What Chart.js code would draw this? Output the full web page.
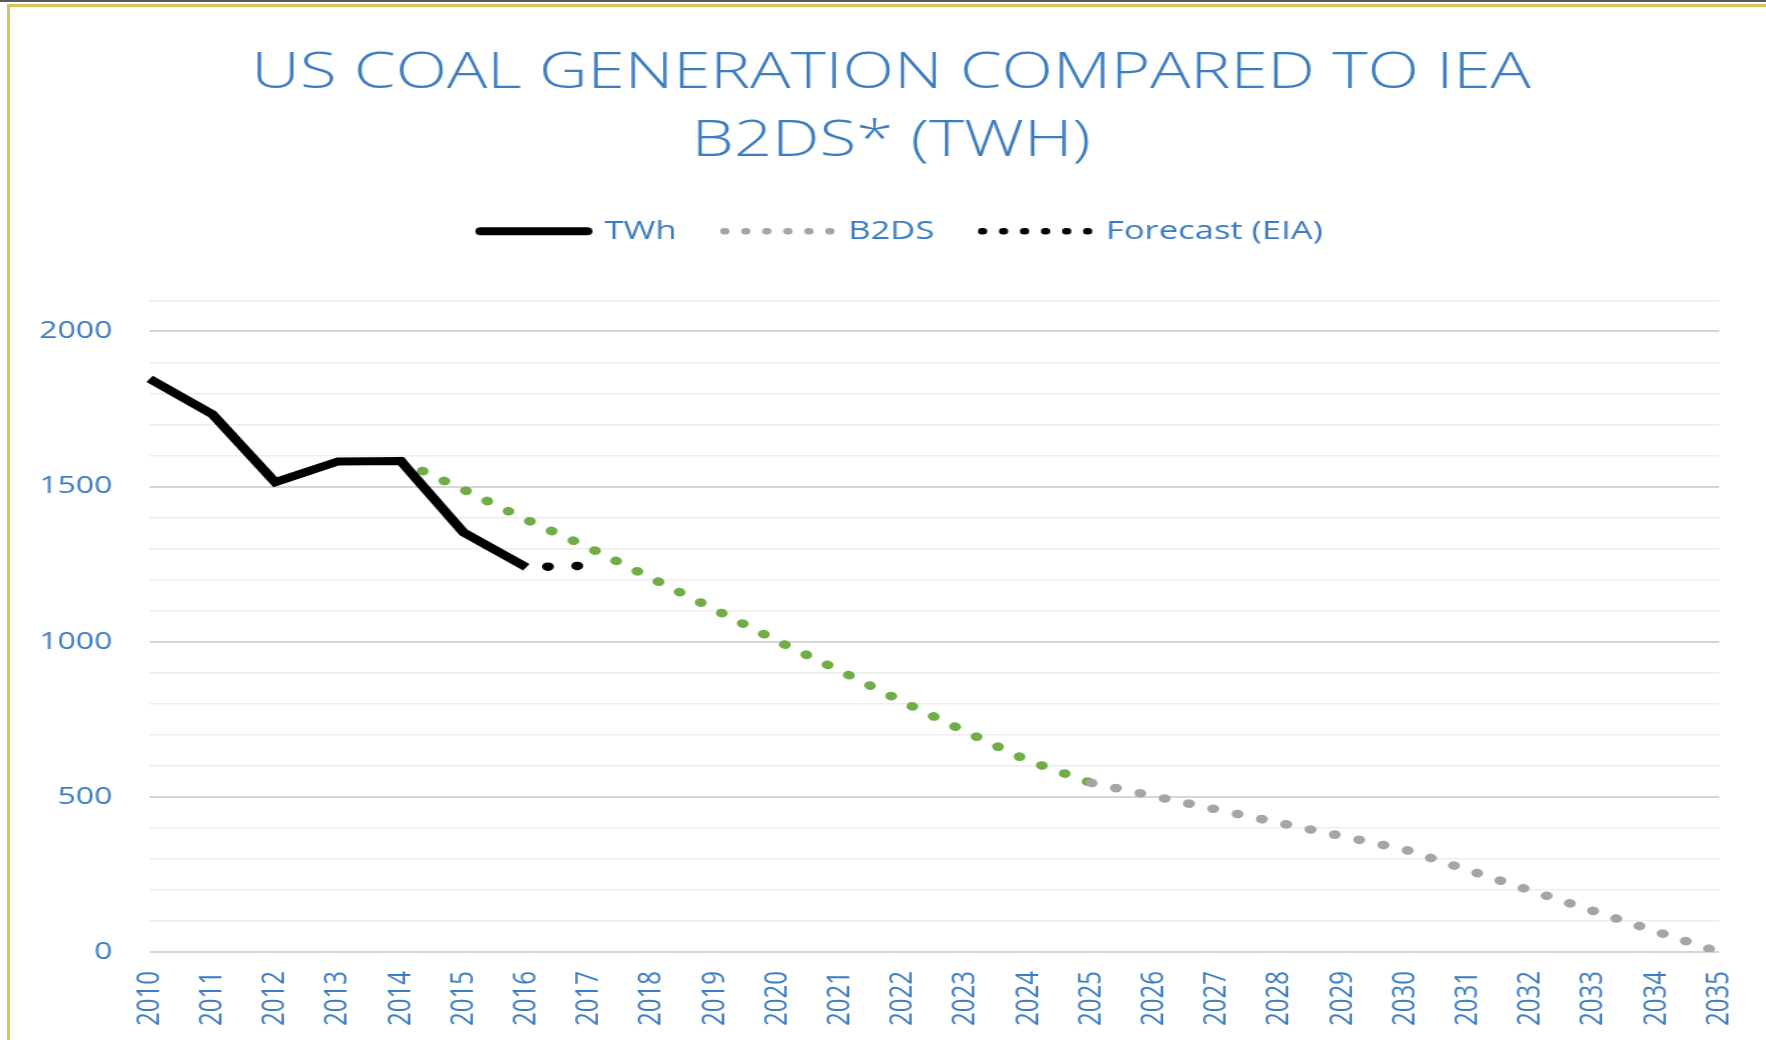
<!DOCTYPE html>
<html>
<head>
<meta charset="utf-8">
<script src="https://cdn.jsdelivr.net/npm/chart.js@4.4.0/dist/chart.umd.min.js"></script>
<style>
  html, body { margin: 0; padding: 0; background: #fff; overflow: hidden; }
  body { width: 1766px; height: 1040px; position: relative; }
  .topline { position: absolute; left: 0; top: 0; width: 1766px; height: 2px; background: #5a5a5a; }
  .goldtop { position: absolute; left: 7px; top: 4px; width: 1759px; height: 3px; background: #d6c35c; }
  .goldleft { position: absolute; left: 7px; top: 4px; width: 3px; height: 1036px; background: #d6c35c; }
  /* the source picture is stretched sideways, so the canvas is too */
  #chart { position: absolute; left: 10px; top: 8px; transform: scaleX(1.33); transform-origin: 0 0; }
</style>
</head>
<body>
<div class="topline"></div>
<div class="goldtop"></div>
<div class="goldleft"></div>
<canvas id="chart" width="1325" height="1032"></canvas>
<script>
// Data dari gambar
var years = ["2010", "2011", "2012", "2013", "2014", "2015", "2016", "2017", "2018",
  "2019", "2020", "2021", "2022", "2023", "2024", "2025", "2026", "2027", "2028",
  "2029", "2030", "2031", "2032", "2033", "2034", "2035"];

var twh = [1847, 1733, 1514, 1581, 1582, 1352, 1240, null, null, null, null, null, null,
  null, null, null, null, null, null, null, null, null, null, null, null, null];

var forecast = [null, null, null, null, null, null, 1240, 1245, null, null, null, null, null,
  null, null, null, null, null, null, null, null, null, null, null, null, null];

var b2ds = [null, null, null, null, 1582, 1490, 1393, 1303, 1204, 1104, 1002, 906, 806,
  710, 616, 545, 502, 459, 416, 373, 330, 264, 198, 132, 66, 0];

var blue = "#3c7cc1";
var green = "#70ad47";
var grey = "#a5a5a5";
var font = "'Open Sans', sans-serif";

// geser legenda sedikit ke kanan seperti di gambar asli
var legendShift = {
  id: "legendShift",
  afterLayout: function (chart) {
    chart.legend.left += 8;
    chart.legend.right += 8;
  },
};

var ctx = document.getElementById("chart").getContext("2d");

new Chart(ctx, {
  type: "line",
  data: {
    labels: years,
    datasets: [
      {
        label: "TWh",
        data: twh,
        borderColor: "#000000",
        borderWidth: 8,
        borderJoinStyle: "miter",
        pointRadius: 0,
        spanGaps: false,
      },
      {
        label: "B2DS",
        data: b2ds,
        borderColor: grey,
        borderWidth: 8.5,
        borderCapStyle: "round",
        borderDash: [0.5, 18.5],
        pointRadius: 0,
        // hijau sampai 2025, abu-abu sesudahnya
        segment: {
          borderColor: function (c) {
            return c.p0DataIndex < 15 ? green : grey;
          },
        },
      },
      {
        label: "Forecast (EIA)",
        data: forecast,
        borderColor: "#000000",
        borderWidth: 8.5,
        borderCapStyle: "round",
        borderDash: [0.5, 21.5],
        borderDashOffset: 6,
        pointRadius: 0,
      },
    ],
  },
  options: {
    responsive: false,
    devicePixelRatio: 1,
    animation: false,
    layout: {
      padding: 0,
      autoPadding: false,
    },
    plugins: {
      title: {
        display: true,
        text: ["US COAL GENERATION COMPARED TO IEA", "B2DS* (TWH)"],
        color: blue,
        font: { family: font, size: 50.5, weight: 350, lineHeight: 1.36 },
        padding: { top: 31, bottom: 6 },
      },
      legend: {
        display: true,
        labels: {
          color: blue,
          font: { family: font, size: 26 },
          usePointStyle: true,
          pointStyleWidth: 80,
          padding: 36,
          generateLabels: function (chart) {
            return [
              { text: "TWh", datasetIndex: 0, pointStyle: "line", strokeStyle: "#000000",
                fillStyle: "#000000", lineWidth: 8, lineCap: "round", lineDash: [], fontColor: blue },
              { text: "B2DS", datasetIndex: 1, pointStyle: "line", strokeStyle: grey,
                fillStyle: grey, lineWidth: 6.5, lineCap: "round", lineDash: [0.5, 15.3], fontColor: blue },
              { text: "Forecast (EIA)", datasetIndex: 2, pointStyle: "line", strokeStyle: "#000000",
                fillStyle: "#000000", lineWidth: 6.5, lineCap: "round", lineDash: [0.5, 15.3], fontColor: blue },
            ];
          },
        },
      },
      tooltip: { enabled: false },
    },
    scales: {
      x: {
        type: "category",
        grid: { display: false, drawTicks: false },
        border: { display: false },
        ticks: {
          color: blue,
          font: { family: font, size: 24 },
          autoSkip: false,
          minRotation: 90,
          maxRotation: 90,
          padding: 19,
        },
        afterFit: function (scale) {
          scale.height = 88;
          // label terakhir tidak perlu ruang tambahan di kanan
          scale.paddingLeft = 0;
          scale.paddingRight = 0;
        },
      },
      // sumbu kosong di atas, hanya untuk memberi jarak di bawah legenda
      xTop: {
        type: "category",
        position: "top",
        grid: { display: false, drawTicks: false },
        border: { display: false },
        ticks: { display: false },
        afterFit: function (scale) {
          scale.height = 46;
          scale.paddingLeft = 0;
          scale.paddingRight = 0;
        },
      },
      y: {
        min: 0,
        max: 2100,
        border: { display: false },
        grid: {
          drawTicks: false,
          color: function (c) {
            return c.tick.value % 500 === 0 ? "#d6d6d6" : "#ededed";
          },
          lineWidth: function (c) {
            return c.tick.value % 500 === 0 ? 2 : 1.6;
          },
        },
        ticks: {
          stepSize: 100,
          maxTicksLimit: 30,
          color: blue,
          font: { family: font, size: 24, lineHeight: 0.8 },
          padding: 28,
          callback: function (value) {
            return value % 500 === 0 ? value : "";
          },
        },
        afterFit: function (scale) {
          scale.width = 105;
        },
      },
      // sumbu kosong di kanan, untuk ruang kosong di sisi kanan
      yRight: {
        position: "right",
        grid: { display: false, drawTicks: false },
        border: { display: false },
        ticks: { display: false },
        afterFit: function (scale) {
          scale.width = 40;
        },
      },
    },
  },
  plugins: [legendShift],
});
</script>
</body>
</html>
